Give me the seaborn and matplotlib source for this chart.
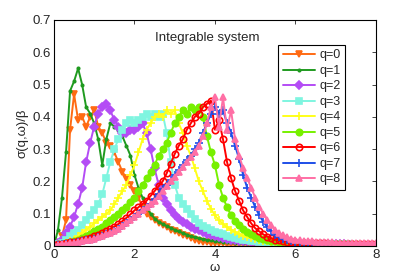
import numpy as np
import matplotlib
matplotlib.use('Agg')
import matplotlib.pyplot as plt
import seaborn as sns

# frequency grid
omega = np.linspace(0, 8, 81)

# sigma(q, omega)/beta, one list per q
sigma_q0 = [0.00, 0.01, 0.03, 0.08, 0.36, 0.47, 0.39, 0.40, 0.37, 0.40,
            0.42, 0.37, 0.35, 0.32, 0.31, 0.29, 0.26, 0.23, 0.21, 0.19,
            0.17, 0.15, 0.12, 0.10, 0.09, 0.08, 0.072, 0.065, 0.058, 0.050,
            0.045, 0.040, 0.035, 0.030, 0.025, 0.020, 0.016, 0.013, 0.011, 0.010,
            0.009, 0.008, 0.008, 0.007, 0.007, 0.006, 0.006, 0.006, 0.005, 0.005,
            0.005, 0.005, 0.004, 0.004, 0.004, 0.004, 0.004, 0.003, 0.003, 0.003,
            0.003, 0.003, 0.003, 0.003, 0.003, 0.003, 0.003, 0.003, 0.003, 0.003,
            0.002, 0.002, 0.002, 0.002, 0.002, 0.002, 0.002, 0.002, 0.002, 0.002,
            0.002]
sigma_q1 = [0.00, 0.05, 0.15, 0.29, 0.48, 0.51, 0.55, 0.50, 0.43, 0.41,
            0.38, 0.33, 0.25, 0.33, 0.38, 0.37, 0.36, 0.34, 0.31, 0.28,
            0.22, 0.18, 0.15, 0.12, 0.10, 0.085, 0.075, 0.068, 0.062, 0.056,
            0.050, 0.045, 0.040, 0.035, 0.030, 0.027, 0.024, 0.021, 0.019, 0.017,
            0.015, 0.014, 0.013, 0.012, 0.011, 0.010, 0.010, 0.009, 0.009, 0.008,
            0.008, 0.007, 0.007, 0.006, 0.006, 0.006, 0.005, 0.005, 0.005, 0.005,
            0.004, 0.004, 0.004, 0.004, 0.004, 0.004, 0.004, 0.004, 0.004, 0.004,
            0.003, 0.003, 0.003, 0.003, 0.003, 0.003, 0.003, 0.003, 0.003, 0.003,
            0.003]
sigma_q2 = [0.00, 0.01, 0.02, 0.04, 0.06, 0.09, 0.13, 0.18, 0.26, 0.32,
            0.37, 0.41, 0.43, 0.44, 0.42, 0.39, 0.37, 0.35, 0.35, 0.36,
            0.36, 0.37, 0.38, 0.35, 0.30, 0.24, 0.19, 0.15, 0.13, 0.11,
            0.095, 0.085, 0.075, 0.068, 0.060, 0.054, 0.048, 0.043, 0.038, 0.034,
            0.030, 0.027, 0.024, 0.022, 0.020, 0.018, 0.016, 0.015, 0.014, 0.013,
            0.012, 0.011, 0.011, 0.010, 0.010, 0.009, 0.009, 0.008, 0.008, 0.008,
            0.007, 0.007, 0.007, 0.006, 0.006, 0.006, 0.006, 0.005, 0.005, 0.005,
            0.005, 0.005, 0.005, 0.004, 0.004, 0.004, 0.004, 0.004, 0.004, 0.004,
            0.004]
sigma_q3 = [0.00, 0.005, 0.01, 0.02, 0.03, 0.04, 0.05, 0.065, 0.08, 0.095,
            0.11, 0.13, 0.16, 0.21, 0.26, 0.30, 0.33, 0.36, 0.38, 0.39,
            0.38, 0.39, 0.40, 0.41, 0.40, 0.41, 0.40, 0.41, 0.35, 0.26,
            0.19, 0.15, 0.13, 0.115, 0.10, 0.085, 0.072, 0.062, 0.055, 0.049,
            0.044, 0.040, 0.036, 0.032, 0.029, 0.026, 0.023, 0.020, 0.018, 0.016,
            0.014, 0.013, 0.012, 0.011, 0.010, 0.010, 0.009, 0.009, 0.008, 0.008,
            0.008, 0.007, 0.007, 0.007, 0.006, 0.006, 0.006, 0.006, 0.005, 0.005,
            0.005, 0.005, 0.005, 0.005, 0.004, 0.004, 0.004, 0.004, 0.004, 0.004,
            0.004]
sigma_q4 = [0.00, 0.003, 0.006, 0.01, 0.015, 0.02, 0.03, 0.04, 0.05, 0.06,
            0.07, 0.08, 0.09, 0.10, 0.11, 0.13, 0.15, 0.17, 0.19, 0.22,
            0.25, 0.29, 0.33, 0.36, 0.38, 0.40, 0.41, 0.40, 0.42, 0.41,
            0.42, 0.38, 0.35, 0.31, 0.28, 0.24, 0.20, 0.17, 0.14, 0.115,
            0.095, 0.080, 0.068, 0.058, 0.050, 0.043, 0.037, 0.032, 0.028, 0.024,
            0.021, 0.018, 0.016, 0.014, 0.012, 0.011, 0.010, 0.009, 0.009, 0.008,
            0.008, 0.007, 0.007, 0.007, 0.006, 0.006, 0.006, 0.006, 0.005, 0.005,
            0.005, 0.005, 0.005, 0.005, 0.004, 0.004, 0.004, 0.004, 0.004, 0.004,
            0.004]
sigma_q5 = [0.00, 0.003, 0.005, 0.008, 0.012, 0.016, 0.02, 0.025, 0.03, 0.037,
            0.045, 0.052, 0.06, 0.07, 0.08, 0.09, 0.10, 0.11, 0.12, 0.135,
            0.15, 0.17, 0.19, 0.21, 0.23, 0.25, 0.28, 0.30, 0.32, 0.35,
            0.38, 0.40, 0.42, 0.41, 0.43, 0.42, 0.43, 0.40, 0.34, 0.29,
            0.25, 0.19, 0.15, 0.12, 0.095, 0.078, 0.064, 0.053, 0.044, 0.037,
            0.031, 0.026, 0.022, 0.019, 0.016, 0.014, 0.012, 0.011, 0.010, 0.009,
            0.009, 0.008, 0.008, 0.007, 0.007, 0.007, 0.006, 0.006, 0.006, 0.006,
            0.006, 0.005, 0.005, 0.005, 0.005, 0.005, 0.004, 0.004, 0.004, 0.004,
            0.004]
sigma_q6 = [0.003, 0.005, 0.007, 0.009, 0.011, 0.013, 0.016, 0.019, 0.022, 0.026,
            0.030, 0.035, 0.040, 0.046, 0.053, 0.060, 0.068, 0.077, 0.087, 0.098,
            0.11, 0.12, 0.13, 0.14, 0.155, 0.17, 0.185, 0.20, 0.225, 0.255,
            0.285, 0.31, 0.33, 0.36, 0.38, 0.40, 0.41, 0.43, 0.44, 0.45,
            0.36, 0.39, 0.33, 0.26, 0.21, 0.17, 0.14, 0.11, 0.09, 0.07,
            0.055, 0.045, 0.036, 0.029, 0.024, 0.020, 0.017, 0.015, 0.013, 0.012,
            0.011, 0.010, 0.010, 0.009, 0.009, 0.008, 0.008, 0.008, 0.007, 0.007,
            0.007, 0.007, 0.006, 0.006, 0.006, 0.006, 0.006, 0.005, 0.005, 0.005,
            0.005]
sigma_q7 = [0.003, 0.004, 0.005, 0.006, 0.008, 0.010, 0.012, 0.014, 0.017, 0.020,
            0.023, 0.027, 0.031, 0.036, 0.041, 0.047, 0.054, 0.062, 0.071, 0.080,
            0.09, 0.10, 0.11, 0.12, 0.13, 0.145, 0.16, 0.175, 0.19, 0.205,
            0.22, 0.235, 0.25, 0.265, 0.28, 0.30, 0.32, 0.35, 0.38, 0.41,
            0.43, 0.41, 0.42, 0.38, 0.35, 0.31, 0.27, 0.22, 0.18, 0.15,
            0.12, 0.095, 0.075, 0.058, 0.045, 0.035, 0.028, 0.022, 0.018, 0.015,
            0.013, 0.012, 0.011, 0.010, 0.010, 0.009, 0.009, 0.008, 0.008, 0.008,
            0.007, 0.007, 0.007, 0.007, 0.006, 0.006, 0.006, 0.006, 0.006, 0.006,
            0.006]
sigma_q8 = [0.003, 0.004, 0.005, 0.006, 0.008, 0.010, 0.012, 0.014, 0.017, 0.020,
            0.023, 0.027, 0.031, 0.036, 0.041, 0.047, 0.054, 0.062, 0.070, 0.080,
            0.09, 0.10, 0.11, 0.12, 0.13, 0.14, 0.155, 0.17, 0.185, 0.20,
            0.215, 0.23, 0.245, 0.26, 0.275, 0.29, 0.31, 0.34, 0.38, 0.43,
            0.46, 0.37, 0.46, 0.36, 0.42, 0.33, 0.28, 0.24, 0.21, 0.18,
            0.15, 0.12, 0.10, 0.08, 0.065, 0.05, 0.04, 0.033, 0.027, 0.023,
            0.020, 0.018, 0.016, 0.015, 0.014, 0.013, 0.012, 0.012, 0.011, 0.011,
            0.010, 0.010, 0.010, 0.009, 0.009, 0.009, 0.009, 0.008, 0.008, 0.008,
            0.008]

labels = ['q=0', 'q=1', 'q=2', 'q=3', 'q=4', 'q=5', 'q=6', 'q=7', 'q=8']
series = [sigma_q0, sigma_q1, sigma_q2, sigma_q3, sigma_q4,
          sigma_q5, sigma_q6, sigma_q7, sigma_q8]
colors = ['#ff6a13', '#1f9a1f', '#b44cf5', '#7ff5e0', '#ffff1a',
          '#77f000', '#ff0000', '#1f4fe8', '#ff6fa5']
markers = ['v', '.', 'D', 's', '+', 'o', 'o', '+', '^']
x_ticks = [0, 2, 4, 6, 8]
y_ticks = [0, 0.1, 0.2, 0.3, 0.4, 0.5, 0.6, 0.7]
y_tick_labels = ['0', '0.1', '0.2', '0.3', '0.4', '0.5', '0.6', '0.7']

sns.set_style('white')
plt.rcParams['font.family'] = ['Liberation Sans', 'DejaVu Sans']

fig = plt.figure(figsize=(4.15, 2.77), dpi=100)
ax = fig.add_axes([0.130, 0.112, 0.776, 0.816])

for lab, vals, col, mk in zip(labels, series, colors, markers):
    face = 'none' if lab == 'q=6' else col
    ms = 5.0
    if mk == '.':
        ms = 3.5
    elif mk == '+':
        ms = 5.5
    elif mk == 'D':
        ms = 4.3
    elif mk == 's':
        ms = 3.8
    elif mk == 'o':
        ms = 4.6
    sns.lineplot(x=omega, y=vals, ax=ax, color=col, label=lab,
                 marker=mk, markersize=ms, markerfacecolor=face,
                 markeredgecolor=col, markeredgewidth=1.2, linewidth=1.4)

ax.set_xlim(0, 8)
ax.set_ylim(0, 0.7)
ax.set_xticks(x_ticks)
ax.set_yticks(y_ticks)
ax.set_yticklabels(y_tick_labels)
ax.tick_params(direction='in', length=3, width=0.6, labelsize=9.5,
               top=True, right=True, pad=2)
for sp in ax.spines.values():
    sp.set_color('black')
    sp.set_linewidth(0.8)

ax.set_xlabel('ω', fontsize=9.5, labelpad=1)
ax.set_ylabel('σ(q,ω)/β', fontsize=9.5, labelpad=3)
ax.text(3.8, 0.643, 'Integrable system', fontsize=9.5, ha='center', va='center')

leg = ax.legend(loc='upper right', bbox_to_anchor=(0.904, 0.889),
                borderaxespad=0, fontsize=9, frameon=True, fancybox=False,
                edgecolor='black', framealpha=1, handlelength=2.6,
                labelspacing=0.28, borderpad=0.35, handletextpad=0.35)
leg.get_frame().set_linewidth(0.8)

fig.savefig('out.png', dpi=100)
